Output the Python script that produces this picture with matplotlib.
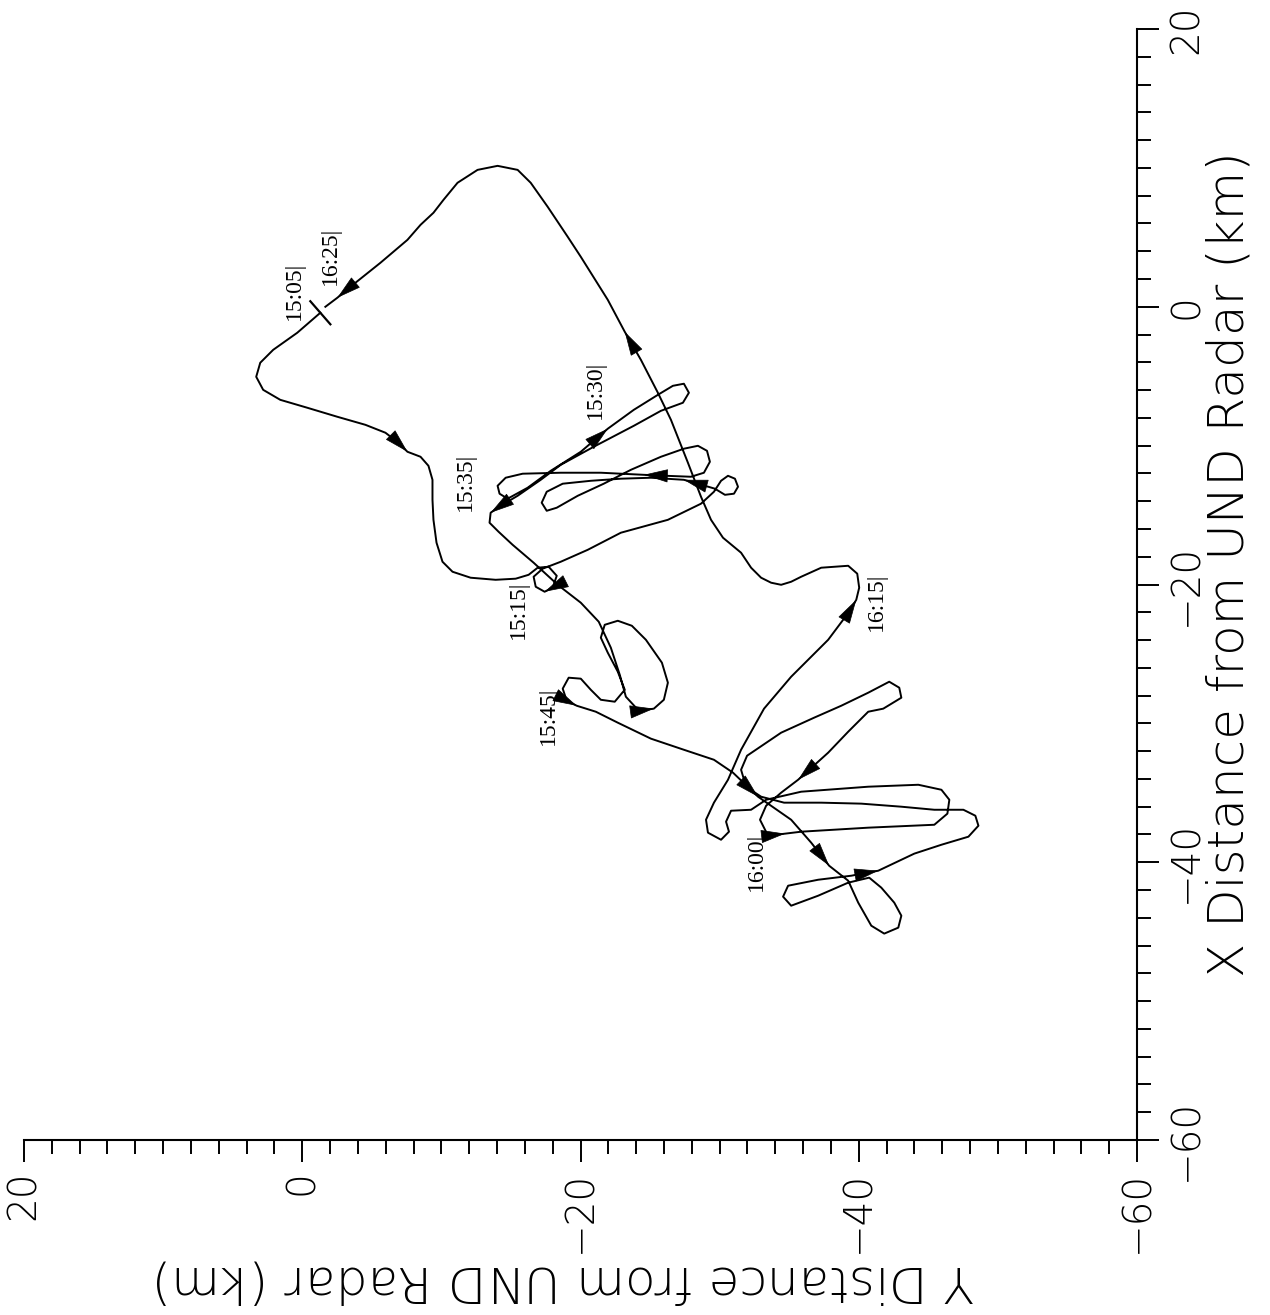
import matplotlib.pyplot as plt
from matplotlib.ticker import MultipleLocator
import numpy as np

# flight track relative to the UND radar, km (x east, y north), 15:05 -> 16:25
track_x = [-0.43, -1.87, -3.10, -4.03, -5.04, -5.98, -6.70, -7.27, -7.92, -8.50,
           -9.07, -9.79, -10.44, -10.80, -11.45, -12.46, -13.90, -15.34, -16.99, -18.36,
           -19.08, -19.51, -19.66, -19.58, -19.30, -18.79, -18.72, -19.37, -20.23, -20.52,
           -20.16, -19.44, -18.86, -18.36, -17.50, -16.27, -15.34, -14.18, -13.32, -12.53,
           -12.17, -12.38, -12.96, -13.46, -13.54, -13.10, -12.74, -12.46, -12.31, -12.38,
           -12.53, -12.74, -13.32, -14.11, -14.69, -14.47, -13.61, -12.74, -11.74, -10.80,
           -10.22, -10.01, -10.37, -11.16, -11.95, -12.24, -12.17, -12.10, -11.95, -11.95,
           -12.02, -12.31, -12.89, -13.46, -13.82, -13.03, -11.81, -10.44, -8.78, -7.42,
           -6.34, -5.69, -5.54, -6.19, -6.91, -7.49, -8.57, -10.08, -11.38, -12.46,
           -13.61, -14.33, -14.83, -15.55, -16.20, -17.14, -18.43, -20.02, -21.31, -22.68,
           -24.55, -26.50, -28.08, -29.09, -28.94, -28.30, -27.07, -25.63, -23.98, -22.97,
           -22.61, -22.90, -23.83, -24.91, -26.28, -27.58, -28.44, -28.30, -27.58, -26.78,
           -26.71, -27.50, -28.37, -28.73, -29.16, -29.95, -31.10, -31.90, -32.62, -33.55,
           -35.28, -36.94, -38.59, -40.25, -41.33, -42.91, -44.57, -45.14, -44.71, -43.85,
           -42.91, -41.83, -41.11, -41.47, -42.41, -43.13, -42.48, -41.69, -41.26, -40.97,
           -40.61, -39.38, -38.74, -38.16, -37.37, -36.65, -36.22, -36.22, -36.00, -35.78,
           -35.71, -35.71, -35.28, -34.56, -33.34, -32.33, -30.67, -29.59, -28.73, -27.79,
           -27.00, -27.43, -28.15, -28.94, -29.16, -30.60, -32.11, -34.06, -34.99, -35.93,
           -36.94, -38.09, -37.94, -37.80, -37.51, -37.30, -36.50, -35.50, -34.78, -34.42,
           -34.56, -34.92, -35.50, -36.22, -36.29, -37.08, -37.80, -38.38, -37.87, -36.94,
           -35.71, -34.06, -31.90, -28.94, -26.64, -23.98, -21.96, -21.10, -20.23, -19.22,
           -18.65, -18.79, -19.44, -19.80, -20.02, -19.87, -19.51, -18.79, -17.71, -16.63,
           -15.34, -13.68, -11.23, -8.14, -6.19, -3.82, -1.80, 0.50, 3.60, 5.04,
           7.20, 8.93, 9.86, 10.15, 9.86, 8.93, 7.70, 6.77, 5.90, 4.82,
           3.17, 1.44, 0.65, 0.00]
track_y = [-1.30, 0.36, 2.09, 3.02, 3.31, 2.81, 1.58, -0.36, -2.52, -4.54,
           -5.98, -6.91, -7.56, -8.50, -9.07, -9.36, -9.36, -9.43, -9.65, -10.08,
           -10.80, -12.10, -13.90, -15.34, -16.27, -16.92, -17.71, -18.29, -18.00, -17.42,
           -16.78, -16.63, -17.28, -18.58, -20.52, -22.90, -26.28, -28.66, -29.59, -30.10,
           -30.60, -31.10, -31.32, -31.03, -30.38, -29.66, -28.44, -27.43, -25.06, -22.90,
           -20.74, -18.72, -17.57, -17.21, -17.57, -18.29, -19.80, -21.67, -23.62, -25.78,
           -27.43, -28.44, -29.09, -29.30, -28.87, -27.94, -26.14, -24.55, -21.46, -18.58,
           -15.84, -14.62, -14.04, -14.18, -14.76, -16.20, -17.86, -20.02, -21.96, -23.83,
           -25.56, -26.64, -27.43, -27.79, -27.36, -25.78, -23.83, -20.95, -18.58, -17.14,
           -15.48, -14.26, -13.54, -13.46, -14.11, -15.12, -16.63, -18.36, -20.02, -21.31,
           -22.18, -22.82, -23.26, -24.19, -25.27, -25.99, -26.28, -25.85, -24.70, -23.69,
           -22.68, -21.74, -21.46, -21.96, -22.68, -23.18, -22.46, -21.46, -20.74, -20.02,
           -19.15, -18.72, -19.01, -19.73, -21.10, -22.68, -25.06, -27.43, -29.59, -30.96,
           -32.76, -35.14, -36.58, -37.87, -39.24, -39.96, -40.90, -41.83, -42.84, -43.06,
           -42.55, -41.62, -40.75, -39.24, -37.08, -35.14, -34.56, -34.92, -37.08, -39.46,
           -41.40, -43.99, -45.94, -47.88, -48.60, -48.38, -47.52, -45.43, -43.06, -40.18,
           -37.30, -34.63, -32.98, -31.90, -31.54, -31.97, -34.42, -36.79, -38.74, -40.68,
           -42.19, -42.91, -43.06, -41.76, -40.68, -39.24, -37.80, -35.64, -34.42, -33.34,
           -32.90, -33.48, -34.70, -35.86, -40.68, -45.43, -46.37, -46.51, -45.94, -44.28,
           -40.68, -35.86, -33.34, -32.26, -30.82, -30.46, -30.67, -30.10, -29.16, -29.02,
           -29.59, -30.60, -31.54, -33.19, -35.14, -37.80, -39.31, -39.82, -40.03, -39.89,
           -39.24, -37.30, -35.86, -35.14, -34.42, -33.70, -32.98, -32.26, -31.54, -30.24,
           -29.38, -28.66, -27.72, -26.50, -25.56, -24.34, -23.18, -21.96, -20.02, -19.08,
           -17.64, -16.42, -15.48, -14.04, -12.60, -11.16, -10.15, -9.43, -8.50, -7.56,
           -5.62, -3.46, -2.52, -1.66]

# track points that carry a direction arrow
arrow_idx = [12, 29, 47, 67, 78, 92, 104, 123, 130, 133, 150, 177, 182, 207, 226, 242]

# time labels
label_text = ['15:05', '16:25', '15:30', '15:35', '15:15', '15:45', '16:15', '16:00']
label_x = [1.15, 3.67, -5.98, -12.60, -21.82, -29.45, -21.24, -39.96]
label_y = [0.58, -2.02, -21.10, -11.74, -15.55, -17.71, -41.26, -32.62]

fig = plt.figure(figsize=(12.7, 13.15), dpi=100)
ax = fig.add_axes([0.0189, 0.1331, 0.8764, 0.8448])

# the page is turned: x runs up the right edge, y runs right-to-left along the bottom
ax.plot(track_y, track_x, color='black', lw=1.4, solid_joinstyle='round')

for i in arrow_idx:
    ax.annotate('', xy=(track_y[i], track_x[i]), xytext=(track_y[i - 1], track_x[i - 1]),
                arrowprops=dict(arrowstyle='-|>,head_length=0.8,head_width=0.22',
                                color='black', lw=0.5, shrinkA=0, shrinkB=0,
                                mutation_scale=20))

# start mark at 15:05, across the track
dx = track_y[1] - track_y[0]
dy = track_x[1] - track_x[0]
n = np.hypot(dx, dy)
px, py = -dy / n * 1.1, dx / n * 1.1
ax.plot([track_y[0] - px, track_y[0] + px], [track_x[0] - py, track_x[0] + py],
        color='black', lw=1.6)

for t, lx, ly in zip(label_text, label_x, label_y):
    ax.text(ly, lx, t + '|', rotation=90, ha='center', va='center',
            family='Liberation Serif', fontsize=17)

ax.set_xlim(20, -60)
ax.set_ylim(-60, 20)

ax.spines['top'].set_visible(False)
ax.spines['left'].set_visible(False)
for s in ('bottom', 'right'):
    ax.spines[s].set_linewidth(1.5)
ax.xaxis.set_ticks_position('bottom')
ax.yaxis.set_ticks_position('right')

major = [20, 0, -20, -40, -60]
names = [f'{v:d}'.replace('-', '\u2212') for v in major]
ax.set_xticks(major, names, rotation=90, ha='center', va='top', fontweight='light')
ax.set_yticks(major, names, rotation=90, ha='left', va='center', fontweight='light')
ax.xaxis.set_minor_locator(MultipleLocator(2))
ax.yaxis.set_minor_locator(MultipleLocator(2))
ax.tick_params(which='major', direction='out', length=16, width=1.4, labelsize=28, pad=6)
ax.tick_params(which='minor', direction='out', length=10, width=1.4)

fig.text(1229 / 1270, 1 - 564 / 1315, 'X Distance from UND Radar (km)',
         rotation=90, ha='center', va='center', fontsize=36, fontweight='light')
fig.text(563 / 1270, 1 - 1281 / 1315, 'Y Distance from UND Radar (km)',
         rotation=180, ha='center', va='center', fontsize=36, fontweight='light')

fig.savefig('out.png', dpi=100)
